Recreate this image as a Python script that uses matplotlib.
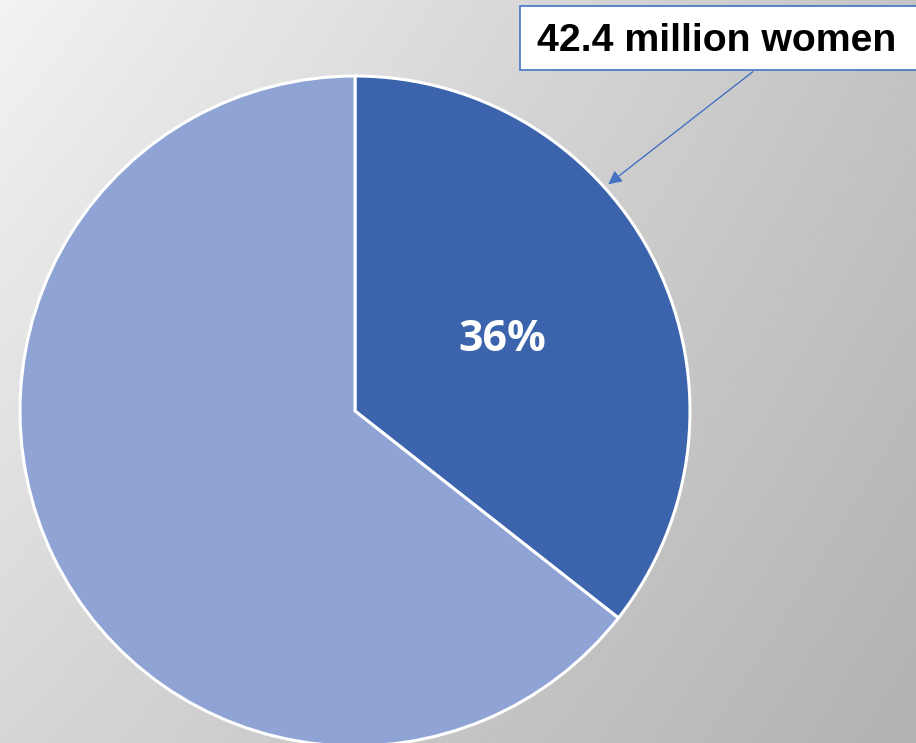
import numpy as np
import matplotlib.pyplot as plt
from matplotlib.patches import Rectangle

# share of women (first slice is highlighted)
groups = ['Women', 'Other']
shares = [35.6, 64.4]
slice_colors = ['#3c64ac', '#8fa3d4']
callout = '42.4 million women'

W, H = 916, 743
fig = plt.figure(figsize=(W / 100, H / 100), dpi=100)

# grey gradient background (light top-left -> darker bottom-right)
bg = fig.add_axes([0, 0, 1, 1])
gx, gy = np.meshgrid(np.linspace(0, 1, 300), np.linspace(0, 1, 300))
grad = (242 - 46 * gx - 28 * gy + 10 * gx * gy) / 255
bg.imshow(grad, cmap='gray', vmin=0, vmax=1, extent=[0, 1, 0, 1],
          aspect='auto', origin='upper')
bg.axis('off')

# pie, centre (355, 411) px, radius 335 px
cx, cy, r = 355, 411, 335
ax = fig.add_axes([(cx - r) / W, (H - cy - r) / H, 2 * r / W, 2 * r / H])
wedges, _, pct = ax.pie(shares, colors=slice_colors, startangle=90, counterclock=False,
                        radius=1, autopct=lambda p: f'{p:.0f}%' if p < 50 else '',
                        pctdistance=0.49,
                        wedgeprops=dict(edgecolor='white', linewidth=2.2),
                        textprops=dict(color='white', fontsize=31, fontweight='bold',
                                       family='Open Sans'))
ax.set_xlim(-1, 1)
ax.set_ylim(-1, 1)
ax.set_aspect('equal')
ax.axis('off')

# callout box + arrow
box = Rectangle((520, H - 70), 420, 64, transform=None, facecolor='white',
                edgecolor='#4472c4', linewidth=1.2, zorder=5)
fig.patches.append(box)
fig.text(537 / W, (H - 41) / H, callout, fontsize=28.3, fontweight='bold',
         family='Liberation Sans', va='center', ha='left', zorder=6)
bg.annotate('', xy=(606, H - 186), xycoords='figure pixels',
            xytext=(755, H - 70), textcoords='figure pixels',
            arrowprops=dict(arrowstyle='-|>', color='#4472c4', lw=1,
                            mutation_scale=20), zorder=4)

fig.savefig('out.png', dpi=100)
